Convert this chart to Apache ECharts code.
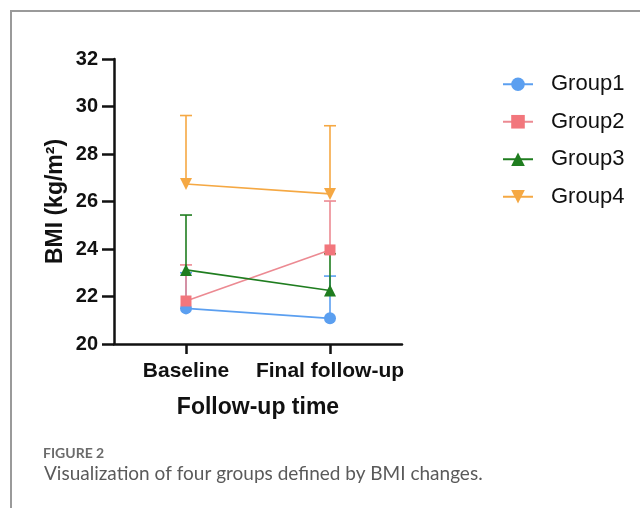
<!DOCTYPE html>
<html><head><meta charset="utf-8">
<script src="https://cdn.jsdelivr.net/npm/echarts@6/dist/echarts.min.js"></script>
<style>
html,body{margin:0;padding:0;background:#fff;}
#frame{position:absolute;left:10px;top:10px;width:640px;height:520px;border-left:2px solid #9a9a9a;border-top:2px solid #9a9a9a;}
#chart{position:absolute;left:0;top:0;width:640px;height:508px;}
</style></head>
<body>
<div id="frame"></div>
<div id="chart"></div>
<script>
const categories = ['Baseline', 'Final follow-up'];
const yTicks = [20, 22, 24, 26, 28, 30, 32];
const groupNames = ['Group1', 'Group2', 'Group3', 'Group4'];
const group1Mean = [21.50, 21.08];
const group1Upper = [23.00, 22.86];
const group2Mean = [21.81, 23.96];
const group2Upper = [23.33, 26.02];
const group3Mean = [23.12, 22.25];
const group3Upper = [25.43, 23.80];
const group4Mean = [26.74, 26.32];
const group4Upper = [29.62, 29.19];
const captionLabel = 'FIGURE 2';
const captionText = 'Visualization of four groups defined by BMI changes.';

const means = [group1Mean, group2Mean, group3Mean, group4Mean];
const uppers = [group1Upper, group2Upper, group3Upper, group4Upper];
const lineColors = ['#5b9ff0', '#ec8a92', '#1f7d1f', '#f5a843'];
const markColors = ['#5b9ff0', '#f2767c', '#1f7d1f', '#f5a843'];
const symbols = ['circle', 'rect', 'triangle', 'triangle'];
const symRot = [0, 0, 0, 180];
const symSize = [12, 11, 12, 12];

const chart = echarts.init(document.getElementById('chart'), null, {renderer: 'canvas'});
const series = [];
means.forEach((m, gi) => {
  series.push({
    type: 'custom',
    name: groupNames[gi] + '_err',
    z: 2,
    silent: true,
    data: m.map((v, i) => [i, v, uppers[gi][i]]),
    renderItem: function (params, api) {
      const p0 = api.coord([api.value(0), api.value(1)]);
      const p1 = api.coord([api.value(0), api.value(2)]);
      const hw = 6;
      const st = {stroke: lineColors[gi], lineWidth: 1.6};
      return {type: 'group', children: [
        {type: 'line', shape: {x1: p0[0], y1: p0[1], x2: p1[0], y2: p1[1]}, style: st},
        {type: 'line', shape: {x1: p1[0] - hw, y1: p1[1], x2: p1[0] + hw, y2: p1[1]}, style: st}
      ]};
    }
  });
});
means.forEach((m, gi) => {
  series.push({
    type: 'line',
    name: groupNames[gi],
    data: m,
    z: 3,
    symbol: symbols[gi],
    symbolRotate: symRot[gi],
    symbolSize: symSize[gi],
    showAllSymbol: true,
    lineStyle: {color: lineColors[gi], width: 1.6},
    itemStyle: {color: markColors[gi], opacity: 1},
    emphasis: {disabled: true},
    animation: false
  });
});

chart.setOption({
  animation: false,
  backgroundColor: 'transparent',
  grid: {left: 114, top: 59, width: 288, height: 285, containLabel: false},
  legend: {
    data: groupNames.map((n) => ({name: n, lineStyle: {width: 2}})),
    orient: 'vertical',
    left: 497,
    top: 67,
    itemWidth: 30,
    itemHeight: 17,
    itemGap: 13,
    textStyle: {fontFamily: 'Liberation Sans', fontSize: 22, color: '#111', lineHeight: 24.5, padding: [0, 0, 0, 13]},
    selectedMode: false
  },
  xAxis: {
    type: 'category',
    data: categories,
    boundaryGap: true,
    name: 'Follow-up time',
    nameLocation: 'middle',
    nameGap: 52,
    nameTextStyle: {fontFamily: 'Liberation Sans', fontWeight: 'bold', fontSize: 23, color: '#111'},
    axisLine: {lineStyle: {color: '#111', width: 2.5}},
    axisTick: {show: true, alignWithLabel: true, interval: 0, length: 10, lineStyle: {color: '#111', width: 2.5}},
    axisLabel: {interval: 0, fontFamily: 'Liberation Sans', fontWeight: 'bold', fontSize: 21, color: '#111', margin: 17}
  },
  yAxis: {
    type: 'value',
    min: 20, max: 32, interval: 2,
    name: 'BMI (kg/m²)',
    nameLocation: 'middle',
    nameGap: 47,
    nameRotate: 90,
    nameTextStyle: {fontFamily: 'Liberation Sans', fontWeight: 'bold', fontSize: 23, color: '#111'},
    axisLine: {show: true, lineStyle: {color: '#111', width: 2.5}},
    axisTick: {show: true, inside: false, length: 12, lineStyle: {color: '#111', width: 2.5}},
    splitLine: {show: false},
    axisLabel: {fontFamily: 'Liberation Sans', fontWeight: 'bold', fontSize: 20, color: '#111', margin: 16,
      formatter: function (v) { return yTicks.indexOf(v) >= 0 ? String(v) : ''; }}
  },
  graphic: [
    {type: 'text', left: 43, top: 446, style: {text: captionLabel, fontFamily: 'Lato', fontWeight: 'bold', fontSize: 14, fill: '#6b6b6b'}},
    {type: 'text', left: 44, top: 464, style: {text: captionText, fontFamily: 'Lato', fontSize: 19, fill: '#5a5a5a'}}
  ],
  series: series
});
</script>
</body></html>
